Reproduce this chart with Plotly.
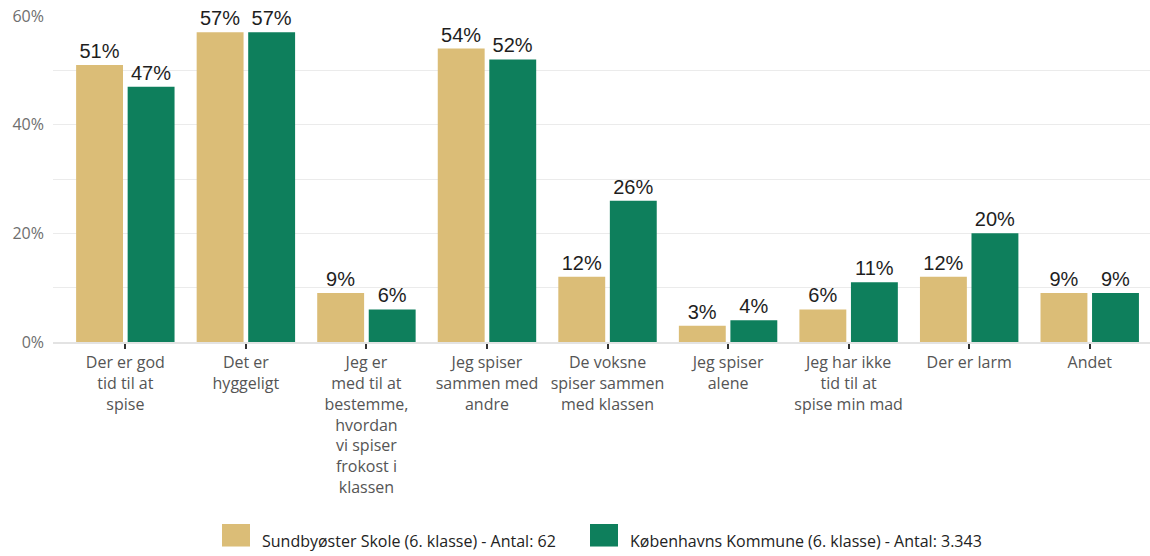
import plotly.graph_objects as go

categories = [
    "Der er god<br>tid til at<br>spise",
    "Det er<br>hyggeligt",
    "Jeg er<br>med til at<br>bestemme,<br>hvordan<br>vi spiser<br>frokost i<br>klassen",
    "Jeg spiser<br>sammen med<br>andre",
    "De voksne<br>spiser sammen<br>med klassen",
    "Jeg spiser<br>alene",
    "Jeg har ikke<br>tid til at<br>spise min mad",
    "Der er larm",
    "Andet",
]
school_name = "Sundbyøster Skole (6. klasse) - Antal: 62"
school_values = [51, 57, 9, 54, 12, 3, 6, 12, 9]
kommune_name = "Københavns Kommune (6. klasse) - Antal: 3.343"
kommune_values = [47, 57, 6, 52, 26, 4, 11, 20, 9]
y_ticks = [0, 20, 40, 60]

GOLD = "#DBBD77"
GREEN = "#0E7F5C"
LABEL_FONT = "'Open Sans', Lato, sans-serif"
VALUE_FONT = "'Liberation Sans', Arial, sans-serif"

fig = go.Figure()
for name, vals, color in [(school_name, school_values, GOLD),
                          (kommune_name, kommune_values, GREEN)]:
    fig.add_trace(go.Bar(
        x=list(range(len(categories))), y=vals, name=name,
        marker=dict(color=color, line=dict(width=0)),
        text=[f"{v}%" for v in vals], texttemplate="%{text}",
        textposition="outside", cliponaxis=False,
        textfont=dict(family=VALUE_FONT, size=20, color="#1E1E1E"),
        showlegend=False,
    ))

fig.update_layout(
    width=1150, height=556,
    margin=dict(l=53, r=0, t=16, b=214),
    paper_bgcolor="white", plot_bgcolor="white",
    barmode="group", bargap=0.145, bargroupgap=0.09,
    font=dict(family=LABEL_FONT),
)
fig.update_xaxes(
    tickmode="array", tickvals=list(range(len(categories))), ticktext=categories,
    range=[-0.6, 8.5], showgrid=False,
    showline=True, linecolor="#E3E3E3", linewidth=2,
    ticks="outside", ticklen=5, tickwidth=2, tickcolor="#333333",
    tickfont=dict(family=LABEL_FONT, size=16, color="#555555"),
)
fig.update_yaxes(
    range=[0, 60], tickmode="array", tickvals=y_ticks,
    ticktext=[f"{t}%" for t in y_ticks],
    showgrid=True, gridcolor="#EBEBEB", gridwidth=1,
    minor=dict(dtick=10, showgrid=True, gridcolor="#EBEBEB", gridwidth=1),
    zeroline=False,
    tickfont=dict(family=LABEL_FONT, size=16, color="#6E6E6E"),
    ticklabelstandoff=8,
)

# Legend: colour swatches with labels beneath the chart
legend_items = [(school_name, GOLD, 222), (kommune_name, GREEN, 590)]
for name, color, x0 in legend_items:
    fig.add_shape(type="rect", xref="paper", yref="paper",
                  x0=(x0 - 53) / 1097, x1=(x0 + 28 - 53) / 1097,
                  y0=-(556 - 342 - 16) / 326 - 0.02, y1=-(524 - 342) / 326,
                  fillcolor=color, line=dict(width=0), layer="above")
    fig.add_annotation(xref="paper", yref="paper",
                       x=(x0 + 38 - 53) / 1097, y=-(541 - 342) / 326,
                       xanchor="left", yanchor="middle", showarrow=False,
                       text=name, font=dict(family=LABEL_FONT, size=16, color="#222222"))

fig.write_html("out.html")
